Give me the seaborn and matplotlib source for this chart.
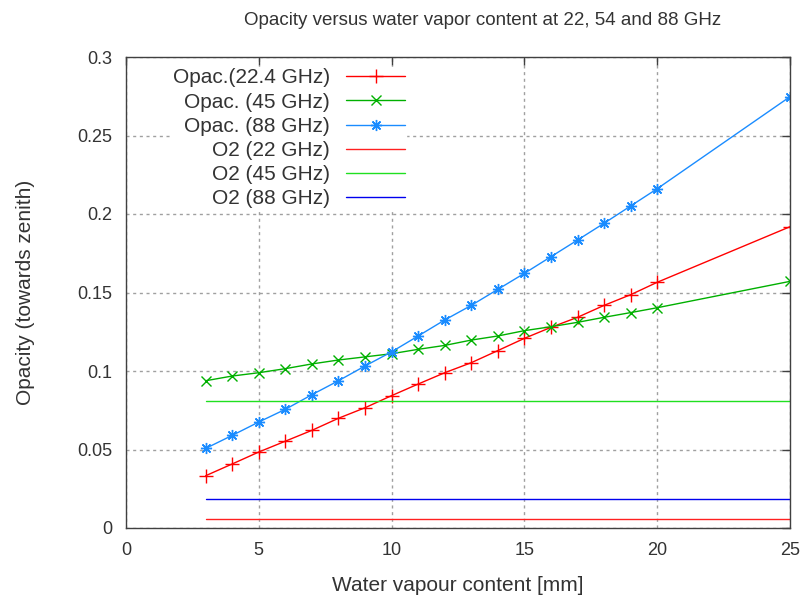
import matplotlib
matplotlib.use("Agg")
import matplotlib.pyplot as plt
import seaborn as sns
import numpy as np

# ---- data ----
water_mm = [3, 4, 5, 6, 7, 8, 9, 10, 11, 12, 13, 14, 15, 16, 17, 18, 19, 20, 25]
opac_22 = [0.0333, 0.0408, 0.0484, 0.0553, 0.0622, 0.0699, 0.0766, 0.0843, 0.0917,
           0.0989, 0.1053, 0.1130, 0.1208, 0.1278, 0.1342, 0.1418, 0.1486, 0.1565, 0.1919]
opac_45 = [0.0938, 0.0968, 0.0989, 0.1015, 0.1045, 0.1070, 0.1090, 0.1110, 0.1138,
           0.1163, 0.1197, 0.1223, 0.1257, 0.1282, 0.1310, 0.1342, 0.1372, 0.1403, 0.1571]
opac_88 = [0.0507, 0.0590, 0.0675, 0.0756, 0.0849, 0.0938, 0.1032, 0.1122, 0.1223,
           0.1325, 0.1418, 0.1520, 0.1622, 0.1728, 0.1834, 0.1941, 0.2051, 0.2161, 0.2747]
o2_x = [3, 25]
o2_22 = [0.0055, 0.0055]
o2_45 = [0.0810, 0.0810]
o2_88 = [0.0187, 0.0187]

x_ticks = [0, 5, 10, 15, 20, 25]
y_ticks = [0, 0.05, 0.1, 0.15, 0.2, 0.25, 0.3]
y_tick_labels = ["0", "0.05", "0.1", "0.15", "0.2", "0.25", "0.3"]

sns.set_theme(style="white")
plt.rcParams["font.family"] = ["Liberation Sans", "DejaVu Sans"]

fig = plt.figure(figsize=(8.01, 6.01), dpi=100)
ax = fig.add_axes([126 / 801, 1 - 528 / 601, (790 - 126) / 801, (528 - 57) / 601])

lw = 1.0
c22, c45, c88 = "#ff0000", "#00b000", "#1a8cff"
sns.lineplot(x=water_mm, y=opac_22, ax=ax, color=c22, lw=lw, marker="+",
             ms=9.5, mew=1.0, mec=c22, label="Opac.(22.4 GHz)")
sns.lineplot(x=water_mm, y=opac_45, ax=ax, color=c45, lw=lw, marker="x",
             ms=6.5, mew=1.0, mec=c45, label="Opac. (45 GHz)")
sns.lineplot(x=water_mm, y=opac_88, ax=ax, color=c88, lw=lw, marker=(8, 2, 0),
             ms=8, mew=1.0, mec=c88, label="Opac. (88 GHz)")
sns.lineplot(x=o2_x, y=o2_22, ax=ax, color="#ff2020", lw=lw, label="O2 (22 GHz)")
sns.lineplot(x=o2_x, y=o2_45, ax=ax, color="#20e020", lw=lw, label="O2 (45 GHz)")
sns.lineplot(x=o2_x, y=o2_88, ax=ax, color="#0000ee", lw=lw, label="O2 (88 GHz)")

ax.set_xlim(0, 25)
ax.set_ylim(0, 0.3)
ax.set_xticks(x_ticks)
ax.set_xticklabels([str(t) for t in x_ticks])
ax.set_yticks(y_ticks)
ax.set_yticklabels(y_tick_labels)

ax.grid(True, color="#a0a0a0", linestyle=(0, (2.2, 2.6)), linewidth=1.0)
ax.set_axisbelow(True)
for s in ax.spines.values():
    s.set_visible(True)
    s.set_color("#404040")
    s.set_linewidth(1.0)
ax.tick_params(direction="in", length=6, width=1.0, color="#404040",
               top=True, right=True, labelsize=13, labelcolor="#333333", pad=10)

ax.set_xlabel("Water vapour content [mm]", fontsize=15, color="#333333", labelpad=12)
ax.set_ylabel("Opacity (towards zenith)", fontsize=15, color="#333333", labelpad=30)
ax.set_title("Opacity versus water vapor content at 22, 54 and 88 GHz",
             fontsize=13.5, color="#333333", pad=23, x=0.5 + 25 / 664)

leg = ax.legend(loc="upper right", bbox_to_anchor=(0.437, 1.0), frameon=True,
                facecolor="white", edgecolor="white", framealpha=1.0, fancybox=False,
                markerfirst=False, fontsize=15, handlelength=2.8, labelspacing=0.25,
                handletextpad=0.8, borderpad=0.05)
for t in leg.get_texts():
    t.set_color("#333333")
for vp in leg._legend_handle_box.get_children():
    vp.align = "right"

fig.savefig("out.png", dpi=100)
